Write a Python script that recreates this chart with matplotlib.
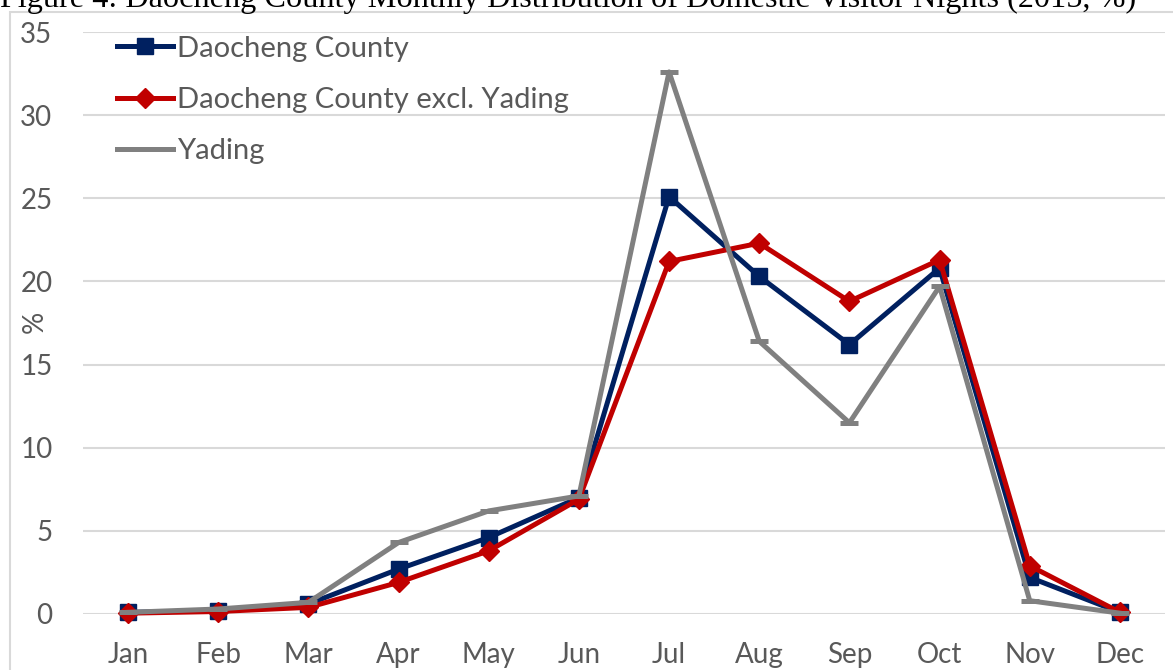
import matplotlib
matplotlib.use("Agg")
import matplotlib.pyplot as plt
from matplotlib.patches import Rectangle

months = ["Jan", "Feb", "Mar", "Apr", "May", "Jun", "Jul", "Aug", "Sep", "Oct", "Nov", "Dec"]
daocheng = [0.1, 0.2, 0.6, 2.7, 4.6, 7.0, 25.1, 20.3, 16.2, 20.8, 2.2, 0.1]
excl_yading = [0.05, 0.15, 0.4, 1.9, 3.8, 6.9, 21.2, 22.3, 18.8, 21.3, 2.9, 0.1]
yading = [0.1, 0.3, 0.7, 4.3, 6.2, 7.1, 32.6, 16.4, 11.5, 19.7, 0.8, 0.05]
yticks = [0, 5, 10, 15, 20, 25, 30, 35]
title = "Figure 4: Daocheng County Monthly Distribution of Domestic Visitor Nights (2015, %)"

W, H = 1173, 670
fig = plt.figure(figsize=(W / 100, H / 100), dpi=100)
L, R, T, B = 83, 1165, 32, 614
ax = fig.add_axes([L / W, 1 - B / H, (R - L) / W, (B - T) / H])

font = "Lato"
txt = "#595959"
x = list(range(len(months)))

ax.plot(x, daocheng, color="#002060", lw=3.6, marker="s", ms=12, label="Daocheng County", clip_on=False, zorder=3)
ax.plot(x, excl_yading, color="#C00000", lw=3.6, marker="D", ms=10.5, label="Daocheng County excl. Yading", clip_on=False, zorder=4)
ax.plot(x, yading, color="#808080", lw=3.6, marker="_", ms=13, mew=3.6, label="Yading", clip_on=False, zorder=5)

ax.set_xlim(-0.5, 11.5)
ax.set_ylim(0, 35)
ax.set_yticks(yticks)
ax.set_xticks(x)
ax.set_xticklabels(months)
ax.grid(axis="y", color="#D9D9D9", lw=1.5)
ax.set_axisbelow(True)
for s in ax.spines.values():
    s.set_visible(False)
ax.tick_params(length=0, labelsize=20, labelcolor=txt)
ax.tick_params(axis="y", pad=22)
ax.tick_params(axis="x", pad=20)
for lab in ax.get_xticklabels() + ax.get_yticklabels():
    lab.set_fontfamily(font)
fig.text(35 / W, 1 - 322 / H, "%", rotation=90, ha="center", va="center",
         fontsize=20, color=txt, fontfamily=font)

leg = ax.legend(loc="upper left", bbox_to_anchor=((105 - L) / (R - L), 1 + (T - 24) / (B - T)), frameon=False,
                prop={"family": font, "size": 21}, handlelength=1.92, handletextpad=0.14,
                labelspacing=0.87, borderaxespad=0)
for t in leg.get_texts():
    t.set_color(txt)

fig.patches.append(Rectangle((10 / W, -0.1), 1.2, 1 - 11.5 / H + 0.1, transform=fig.transFigure,
                             fill=False, ec="#D9D9D9", lw=1.5))
fig.text(0, 1 - 7 / H, title, fontfamily="Liberation Serif", fontsize=23.2, va="baseline", ha="left", color="black")

fig.savefig("out.png", dpi=100)
